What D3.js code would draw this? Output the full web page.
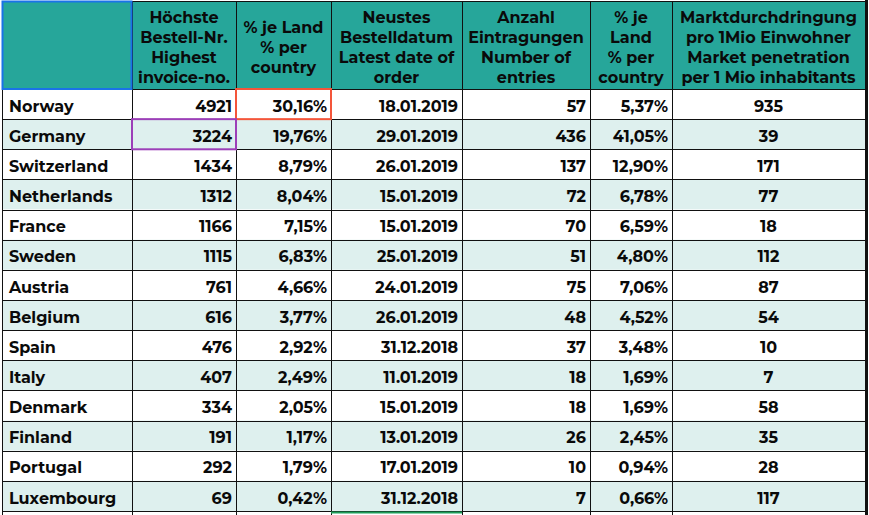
<!DOCTYPE html>
<html>
<head>
<meta charset="utf-8">
<script src="https://cdn.jsdelivr.net/npm/d3@7"></script>
<style>
  html, body { margin: 0; padding: 0; background: #ffffff; }
  svg { display: block; }
  text { font-family: "Montserrat", "DejaVu Sans", sans-serif; font-weight: bold; fill: #0a0a0a; }
</style>
</head>
<body>
<svg id="chart" width="869" height="515"></svg>
<script>
// ---- data ----
const countries = ["Norway","Germany","Switzerland","Netherlands","France","Sweden","Austria","Belgium","Spain","Italy","Denmark","Finland","Portugal","Luxembourg"];
const invoiceNo = [4921,3224,1434,1312,1166,1115,761,616,476,407,334,191,292,69];
const pctInvoice = ["30,16%","19,76%","8,79%","8,04%","7,15%","6,83%","4,66%","3,77%","2,92%","2,49%","2,05%","1,17%","1,79%","0,42%"];
const latestDate = ["18.01.2019","29.01.2019","26.01.2019","15.01.2019","15.01.2019","25.01.2019","24.01.2019","26.01.2019","31.12.2018","11.01.2019","15.01.2019","13.01.2019","17.01.2019","31.12.2018"];
const entries = [57,436,137,72,70,51,75,48,37,18,18,26,10,7];
const pctEntries = ["5,37%","41,05%","12,90%","6,78%","6,59%","4,80%","7,06%","4,52%","3,48%","1,69%","1,69%","2,45%","0,94%","0,66%"];
const penetration = [935,39,171,77,18,112,87,54,10,7,58,35,28,117];
const headers = [
  [],
  ["Höchste","Bestell-Nr.","Highest","invoice-no."],
  ["% je Land","% per","country"],
  ["Neustes","Bestelldatum","Latest date of","order"],
  ["Anzahl","Eintragungen","Number of","entries"],
  ["% je","Land","% per","country"],
  ["Marktdurchdringung","pro 1Mio Einwohner","Market penetration","per 1 Mio inhabitants"]
];

// ---- layout ----
const svg = d3.select("#chart");
const colEdges = [2,132,236,331,462,590,672,865];
const headerTop = 1, headerBottom = 89, tableBottom = 511;
const teal = "#26a69a", light = "#def0ee";

const y = d3.scaleBand().domain(countries).range([headerBottom, tableBottom]).padding(0);
const xL = i => colEdges[i], xR = i => colEdges[i+1];

const columns = [
  {vals: countries, align: "start"},
  {vals: invoiceNo, align: "end"},
  {vals: pctInvoice, align: "end"},
  {vals: latestDate, align: "end"},
  {vals: entries, align: "end"},
  {vals: pctEntries, align: "end"},
  {vals: penetration, align: "middle"}
];

// header background
svg.append("rect").attr("x", colEdges[0]).attr("y", headerTop)
  .attr("width", colEdges[7]-colEdges[0]).attr("height", headerBottom-headerTop).attr("fill", teal);

// row backgrounds
svg.selectAll("rect.row").data(countries).join("rect").attr("class","row")
  .attr("x", colEdges[0]).attr("y", d => y(d))
  .attr("width", colEdges[7]-colEdges[0]).attr("height", y.bandwidth())
  .attr("fill", (d,i) => i % 2 === 1 ? light : "#ffffff");

// header text
headers.forEach((lines, ci) => {
  const cx = (xL(ci) + xR(ci)) / 2;
  const lh = 20, cy = 47;
  const n = lines.length;
  svg.selectAll(null).data(lines).join("text")
    .attr("x", cx)
    .attr("y", (d,i) => cy + (i - (n-1)/2) * lh + 6)
    .attr("text-anchor", "middle")
    .attr("font-size", 16)
    .text(d => d);
});

// cell text
columns.forEach((col, ci) => {
  svg.selectAll(null).data(countries).join("text")
    .attr("x", col.align === "start" ? xL(ci) + 7 : col.align === "end" ? xR(ci) - 4 : (xL(ci)+xR(ci))/2)
    .attr("y", d => y(d) + y.bandwidth() - 7.5)
    .attr("text-anchor", col.align)
    .attr("font-size", 16)
    .text((d,i) => col.vals[i]);
});

// grid lines
const grid = svg.append("g").attr("stroke", "#111").attr("stroke-width", 1).attr("shape-rendering","crispEdges");
const hLines = [headerTop, headerBottom].concat(countries.map(c => y(c) + y.bandwidth()));
grid.selectAll("line.h").data(hLines).join("line")
  .attr("x1", colEdges[0]).attr("x2", colEdges[7]).attr("y1", d => Math.round(d)+0.5).attr("y2", d => Math.round(d)+0.5);
grid.selectAll("line.v").data(colEdges.slice(0,7)).join("line")
  .attr("x1", d => d+0.5).attr("x2", d => d+0.5).attr("y1", headerTop).attr("y2", 515);
svg.append("rect").attr("x", 865).attr("y", 0).attr("width", 3).attr("height", 515).attr("fill", "#111");

// selection highlights
const hl = (x0, y0, x1, y1, color) => svg.append("rect")
  .attr("x", x0).attr("y", y0).attr("width", x1-x0).attr("height", y1-y0)
  .attr("fill", "none").attr("stroke", color).attr("stroke-width", 2);
hl(colEdges[0]+0.5, headerTop+0.5, colEdges[1]-0.5, headerBottom, "#1a73e8");
hl(colEdges[2], y("Norway"), colEdges[3], y("Norway")+y.bandwidth(), "#f4553a");
hl(colEdges[1], y("Germany"), colEdges[2], y("Germany")+y.bandwidth(), "#9c3fb8");
svg.append("line").attr("x1", colEdges[3]).attr("x2", colEdges[4])
  .attr("y1", tableBottom+1.5).attr("y2", tableBottom+1.5).attr("stroke", "#1e9e5a").attr("stroke-width", 2);
</script>
</body>
</html>
